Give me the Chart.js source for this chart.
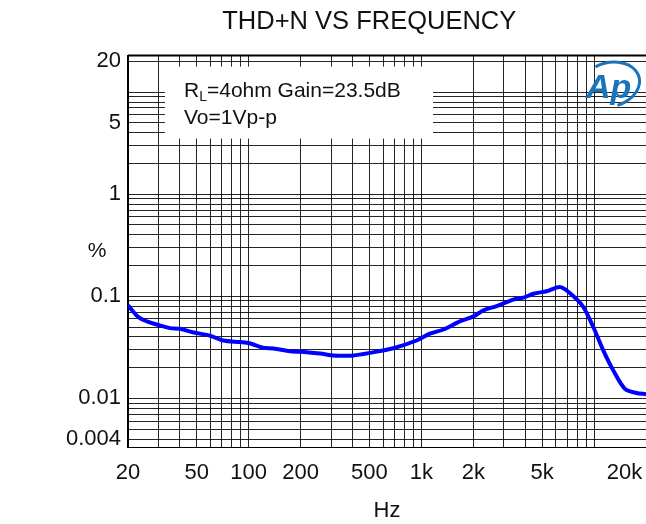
<!DOCTYPE html>
<html>
<head>
<meta charset="utf-8">
<script src="https://cdn.jsdelivr.net/npm/chart.js@4.4.1/dist/chart.umd.min.js"></script>
<style>
    body { margin: 0; background: #fff; }
    canvas { display: block; }
</style>
</head>
<body>
<canvas id="chart-thd" width="646" height="524"></canvas>
<script>
// frequency (Hz) and THD+N (%)
const freq = [20, 23, 27, 30.5, 35, 40, 48, 60, 71, 90, 101, 121, 139, 174, 217, 259, 309, 340, 404, 503, 687, 938, 1120, 1340, 1670, 2000, 2290, 2730, 3410, 3900, 4460, 5320, 6400, 7600, 8670, 9900, 11330, 12950, 15100, 17600, 20000];
const thdn = [0.0815, 0.0626, 0.0551, 0.0519, 0.0488, 0.0481, 0.0442, 0.041, 0.0369, 0.0356, 0.0347, 0.0313, 0.0308, 0.029, 0.0283, 0.0275, 0.0263, 0.0262, 0.0263, 0.0279, 0.031, 0.0369, 0.043, 0.0473, 0.0567, 0.0636, 0.0728, 0.0803, 0.0929, 0.097, 0.106, 0.112, 0.123, 0.1, 0.0785, 0.05, 0.0294, 0.0187, 0.0124, 0.0113, 0.011];

const xLabelVals = [20, 50, 100, 200, 500, 1000, 2000, 5000, 20000];
const xLabels = ['20', '50', '100', '200', '500', '1k', '2k', '5k', '20k'];
const yLabelVals = [0.004, 0.01, 0.1, 1, 5, 20];
const yLabels = ['0.004', '0.01', '0.1', '1', '5', '20'];

const FONT = "'Liberation Sans', Arial, sans-serif";

// 1..9 x decade grid between lo and hi
function logGrid(lo, hi) {
    let out = [];
    for (let d = 0.001; d <= 10000; d *= 10) {
        for (let m = 1; m < 10; m++) {
            let v = +(m * d).toPrecision(6);
            if (v >= lo && v <= hi) out.push(v);
        }
    }
    return out;
}

function findLabel(v, vals, labels) {
    for (let i = 0; i < vals.length; i++) {
        if (Math.abs(v - vals[i]) / vals[i] < 1e-6) return labels[i];
    }
    return '';
}

const decor = {
    id: 'decor',
    beforeDatasetsDraw(chart) {
        const { ctx, chartArea: a } = chart;
        ctx.save();
        // top frame line
        ctx.strokeStyle = '#000';
        ctx.lineWidth = 2;
        ctx.beginPath();
        ctx.moveTo(a.left, a.top);
        ctx.lineTo(a.right, a.top);
        ctx.stroke();

        // condition box
        ctx.fillStyle = '#fff';
        ctx.fillRect(a.left + 37, a.top + 11, 268, 72);
        ctx.fillStyle = '#111';
        ctx.textBaseline = 'alphabetic';
        ctx.font = '21px ' + FONT;
        let x = a.left + 56, y = a.top + 41;
        ctx.fillText('R', x, y);
        x += ctx.measureText('R').width;
        ctx.font = '14px ' + FONT;
        ctx.fillText('L', x, y + 4);
        x += ctx.measureText('L').width;
        ctx.font = '21px ' + FONT;
        ctx.fillText('=4ohm Gain=23.5dB', x, y);
        ctx.fillText('Vo=1Vp-p', a.left + 56, y + 27);

        // Ap logo
        ctx.fillStyle = '#1a74b9';
        ctx.strokeStyle = '#1a74b9';
        ctx.font = 'italic bold 34px ' + FONT;
        ctx.fillText('Ap', a.right - 60, a.top + 42);
        ctx.lineWidth = 3;
        ctx.beginPath();
        ctx.ellipse(a.right - 36, a.top + 29, 30, 22, -0.25, -1.9, 1.5);
        ctx.stroke();

        // y unit
        ctx.fillStyle = '#111';
        ctx.font = '21px ' + FONT;
        ctx.textAlign = 'center';
        ctx.textBaseline = 'middle';
        ctx.fillText('%', 97, (a.top + a.bottom) / 2);
        ctx.restore();
    }
};

function drawThd() {
    var ctx = document.getElementById('chart-thd').getContext('2d');
    const points = freq.map((f, i) => ({ x: f, y: thdn[i] }));

    new Chart(ctx, {
        type: 'line',
        data: {
            datasets: [{
                label: 'THD+N',
                data: points,
                borderColor: '#0000ff',
                borderWidth: 4,
                pointRadius: 0,
                tension: 0.3,
                fill: false
            }]
        },
        options: {
            responsive: false,
            animation: false,
            layout: { padding: 0 },
            plugins: {
                legend: { display: false },
                tooltip: { enabled: false },
                title: {
                    display: true,
                    fullSize: false,
                    text: 'THD+N VS FREQUENCY     ',
                    color: '#111',
                    font: { size: 25.5, family: FONT, weight: 'normal' },
                    padding: { top: 7, bottom: 18 }
                }
            },
            scales: {
                x: {
                    type: 'logarithmic',
                    min: 20,
                    max: 20000,
                    afterBuildTicks: s => { s.ticks = logGrid(20, 20000).map(v => ({ value: v })); },
                    afterFit: s => { s.height = 77; s.paddingLeft = 0; s.paddingRight = 0; },
                    grid: { color: 'rgba(0,0,0,0.85)', lineWidth: 1, drawTicks: false },
                    border: { color: '#000', width: 1 },
                    ticks: {
                        autoSkip: false,
                        maxRotation: 0,
                        padding: 13,
                        color: '#111',
                        font: { size: 22, family: FONT },
                        callback: v => {
                            let l = findLabel(v, xLabelVals, xLabels);
                            return l === '20k' ? l + '       ' : l;
                        }
                    },
                    title: {
                        display: true,
                        text: 'Hz',
                        color: '#111',
                        font: { size: 22, family: FONT, lineHeight: 1 },
                        padding: { top: 0, bottom: 2 }
                    }
                },
                y: {
                    type: 'logarithmic',
                    min: 0.00334,
                    max: 22.8,
                    afterBuildTicks: s => { s.ticks = logGrid(0.004, 20).map(v => ({ value: v })); },
                    afterFit: s => { s.width = 128; s.paddingTop = 0; s.paddingBottom = 0; },
                    grid: { color: 'rgba(0,0,0,0.85)', lineWidth: 1, drawTicks: false },
                    border: { color: '#000', width: 2 },
                    ticks: {
                        autoSkip: false,
                        padding: 7,
                        color: '#111',
                        font: { size: 22, family: FONT },
                        callback: v => findLabel(v, yLabelVals, yLabels)
                    }
                }
            }
        },
        plugins: [decor]
    });
}

drawThd();
</script>
</body>
</html>
